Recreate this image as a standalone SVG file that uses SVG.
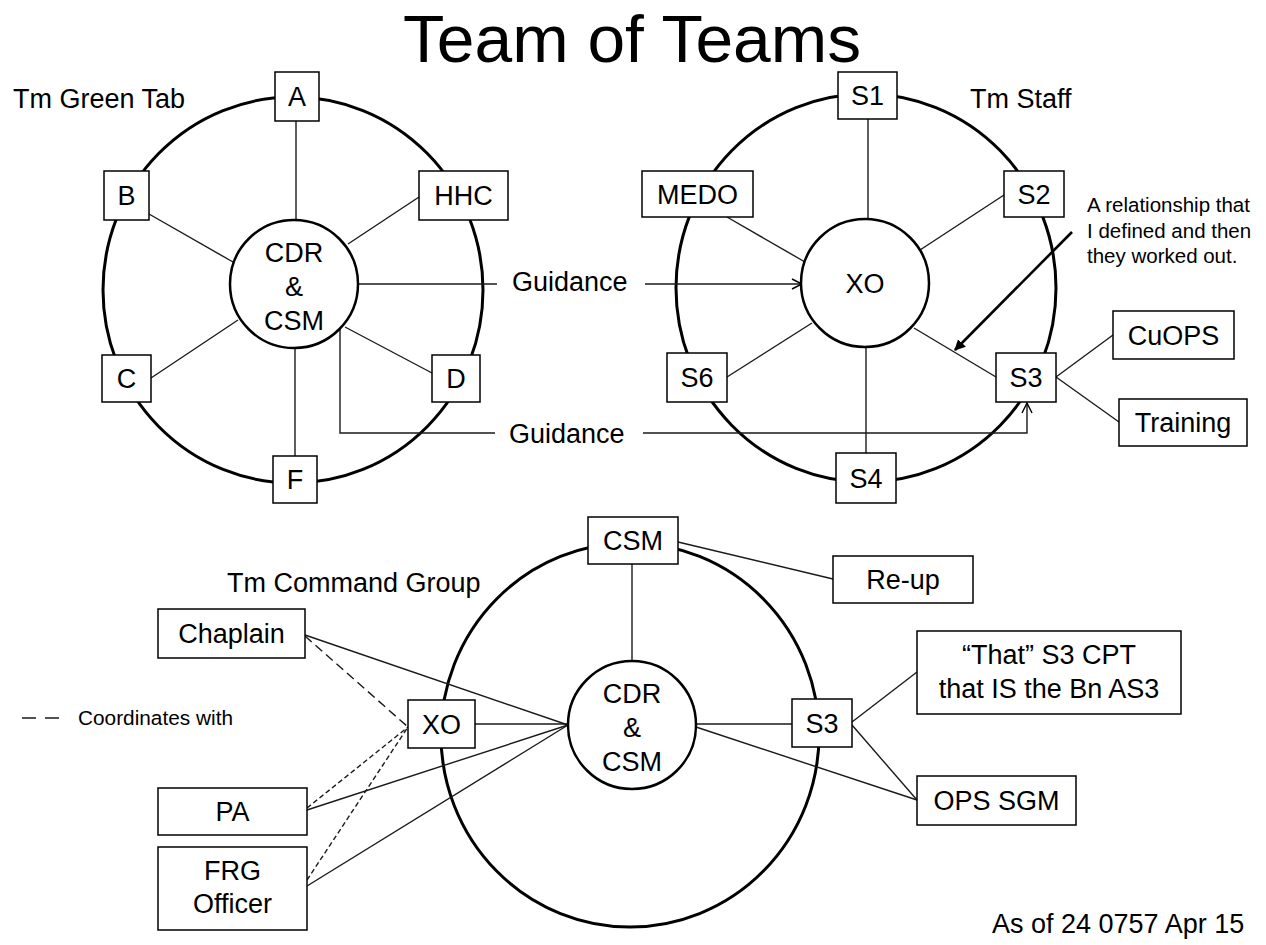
<svg xmlns="http://www.w3.org/2000/svg" width="1266" height="945" viewBox="0 0 1266 945">
<style>
text{font-family:"Liberation Sans",Arial,sans-serif;fill:#000}
.lbl{font-size:27px;text-anchor:middle}
.hdr{font-size:27px}
.note{font-size:20.5px}
.ring{fill:none;stroke:#000;stroke-width:3}
.hub{fill:#fff;stroke:#000;stroke-width:2.5}
.box{fill:#fff;stroke:#000;stroke-width:1.5}
.ln{fill:none;stroke:#1a1a1a;stroke-width:1.4}
.dl{stroke-dasharray:9 5}
.ds{stroke-dasharray:5 3}
</style>
<defs>
<marker id="open" viewBox="0 0 12 12" refX="11" refY="6" markerWidth="12" markerHeight="12" markerUnits="userSpaceOnUse" orient="auto">
<path d="M1,1 L11,6 L1,11" fill="none" stroke="#000" stroke-width="1.4"/>
</marker>
<marker id="solid" viewBox="0 0 10 10" refX="9" refY="5" markerWidth="11" markerHeight="11" markerUnits="userSpaceOnUse" orient="auto">
<path d="M0,0 L10,5 L0,10 Z" fill="#000"/>
</marker>
</defs>
<rect width="1266" height="945" fill="#fff"/>
<text x="632" y="62" font-size="66" text-anchor="middle" textLength="458" lengthAdjust="spacingAndGlyphs">Team of Teams</text>

<g id="rings">
<ellipse class="ring" cx="293" cy="290" rx="190" ry="193"/>
<ellipse class="ring" cx="866" cy="288" rx="190" ry="194"/>
<ellipse class="ring" cx="630" cy="735" rx="189" ry="192"/>
</g>

<g id="connectors">
<line class="ln" x1="296" y1="121" x2="296" y2="220"/>
<line class="ln" x1="149" y1="214" x2="233" y2="262"/>
<line class="ln" x1="419" y1="197" x2="348" y2="244"/>
<line class="ln" x1="151" y1="378" x2="238" y2="320"/>
<line class="ln" x1="345" y1="327" x2="432" y2="373"/>
<line class="ln" x1="295" y1="348" x2="295" y2="456"/>
<line class="ln" x1="358" y1="284" x2="497" y2="284"/>
<line class="ln" x1="645" y1="284" x2="802" y2="284" marker-end="url(#open)"/>
<polyline class="ln" points="340,329 340,433 495,433"/>
<polyline class="ln" points="643,433 1027,433 1027,403" marker-end="url(#open)"/>
<line class="ln" x1="868" y1="119" x2="868" y2="220"/>
<line class="ln" x1="727" y1="217" x2="805" y2="262"/>
<line class="ln" x1="1004" y1="195" x2="920" y2="250"/>
<line class="ln" x1="727" y1="377" x2="812" y2="323"/>
<line class="ln" x1="996" y1="377" x2="914" y2="328"/>
<line class="ln" x1="866" y1="347" x2="866" y2="453"/>
<line class="ln" x1="1056" y1="377" x2="1113" y2="335"/>
<line class="ln" x1="1056" y1="377" x2="1119" y2="422"/>
<line class="ln" x1="632" y1="564" x2="632" y2="661"/>
<line class="ln" x1="678" y1="542" x2="833" y2="579"/>
<line class="ln" x1="475" y1="724" x2="568" y2="724"/>
<line class="ln" x1="696" y1="724" x2="792" y2="724"/>
<line class="ln" x1="305" y1="635" x2="568" y2="725"/>
<line class="ln" x1="307" y1="810" x2="568" y2="725"/>
<line class="ln" x1="307" y1="886" x2="568" y2="725"/>
<line class="ln" x1="852" y1="722" x2="917" y2="672"/>
<line class="ln" x1="852" y1="725" x2="917" y2="800"/>
<line class="ln" x1="696" y1="727" x2="917" y2="800"/>
<line class="ln dl" x1="305" y1="636" x2="408" y2="727"/>
<line class="ln ds" x1="307" y1="808" x2="408" y2="727"/>
<line class="ln ds" x1="307" y1="880" x2="408" y2="727"/>
<line class="ln" x1="22" y1="718" x2="59" y2="718" stroke-dasharray="14 9"/>
</g>

<g id="labels">
<text class="hdr" x="13" y="108">Tm Green Tab</text>
<text class="hdr" x="970" y="108">Tm Staff</text>
<text class="hdr" x="227" y="592">Tm Command Group</text>
<text class="hdr" x="512" y="291">Guidance</text>
<text class="hdr" x="509" y="443">Guidance</text>
<text class="note" x="78" y="725" textLength="155" lengthAdjust="spacingAndGlyphs">Coordinates with</text>
<text class="hdr" x="992" y="933">As of 24 0757 Apr 15</text>
</g>

<g id="gt-hub"><circle class="hub" cx="294" cy="284" r="64"/>
<text class="lbl" x="294" y="262" font-size="26">CDR</text><text class="lbl" x="294" y="296" font-size="26">&amp;</text><text class="lbl" x="294" y="330" font-size="26">CSM</text></g>
<g id="gt-a"><rect class="box" x="275" y="72" width="44" height="49"/><text class="lbl" x="297" y="106">A</text></g>
<g id="gt-b"><rect class="box" x="104" y="171" width="45" height="49"/><text class="lbl" x="126.5" y="205">B</text></g>
<g id="gt-hhc"><rect class="box" x="419" y="171" width="89" height="49"/><text class="lbl" x="463.5" y="205">HHC</text></g>
<g id="gt-c"><rect class="box" x="102" y="355" width="49" height="47"/><text class="lbl" x="126.5" y="388">C</text></g>
<g id="gt-d"><rect class="box" x="432" y="355" width="48" height="47"/><text class="lbl" x="456" y="388">D</text></g>
<g id="gt-f"><rect class="box" x="273" y="456" width="44" height="47"/><text class="lbl" x="295" y="489">F</text></g>

<g id="st-hub"><circle class="hub" cx="865" cy="283" r="64"/><text class="lbl" x="865" y="293">XO</text></g>
<g id="st-s1"><rect class="box" x="838" y="72" width="59" height="47"/><text class="lbl" x="867.5" y="105">S1</text></g>
<g id="st-medo"><rect class="box" x="642" y="171" width="111" height="46"/><text class="lbl" x="697.5" y="203.5">MEDO</text></g>
<g id="st-s2"><rect class="box" x="1004" y="171" width="60" height="46"/><text class="lbl" x="1034" y="203.5">S2</text></g>
<g id="st-s6"><rect class="box" x="667" y="353" width="60" height="49"/><text class="lbl" x="697" y="387">S6</text></g>
<g id="st-s3"><rect class="box" x="996" y="353" width="60" height="49"/><text class="lbl" x="1026" y="387">S3</text></g>
<g id="st-s4"><rect class="box" x="836" y="453" width="60" height="50"/><text class="lbl" x="866" y="487.5">S4</text></g>
<g id="st-cuops"><rect class="box" x="1113" y="311" width="121" height="48"/><text class="lbl" x="1173.5" y="344.5">CuOPS</text></g>
<g id="st-training"><rect class="box" x="1119" y="399" width="128" height="47"/><text class="lbl" x="1183" y="432">Training</text></g>

<g id="note"><text class="note" x="1087" y="212">A relationship that</text><text class="note" x="1087" y="238">I defined and then</text><text class="note" x="1087" y="263">they worked out.</text>
<line x1="1072" y1="232" x2="955" y2="350" stroke="#000" stroke-width="2.6" marker-end="url(#solid)"/></g>

<g id="cg-hub"><circle class="hub" cx="632" cy="725" r="64"/>
<text class="lbl" x="632" y="703" font-size="26">CDR</text><text class="lbl" x="632" y="737" font-size="26">&amp;</text><text class="lbl" x="632" y="771" font-size="26">CSM</text></g>
<g id="cg-csm"><rect class="box" x="588" y="517" width="90" height="47"/><text class="lbl" x="633" y="550">CSM</text></g>
<g id="cg-xo"><rect class="box" x="408" y="700" width="67" height="48"/><text class="lbl" x="441.5" y="733.5">XO</text></g>
<g id="cg-s3"><rect class="box" x="792" y="699" width="60" height="48"/><text class="lbl" x="822" y="732.5">S3</text></g>
<g id="cg-reup"><rect class="box" x="833" y="556" width="140" height="47"/><text class="lbl" x="903" y="589">Re-up</text></g>
<g id="cg-chaplain"><rect class="box" x="158" y="609" width="147" height="49"/><text class="lbl" x="231.5" y="643">Chaplain</text></g>
<g id="cg-pa"><rect class="box" x="158" y="788" width="149" height="47"/><text class="lbl" x="232.5" y="821">PA</text></g>
<g id="cg-frg"><rect class="box" x="158" y="847" width="149" height="83"/><text class="lbl" x="232.5" y="880">FRG</text><text class="lbl" x="232.5" y="913">Officer</text></g>
<g id="cg-that"><rect class="box" x="917" y="631" width="264" height="83"/><text class="lbl" x="1049" y="664">“That” S3 CPT</text><text class="lbl" x="1049" y="698">that IS the Bn AS3</text></g>
<g id="cg-ops"><rect class="box" x="917" y="776" width="159" height="49"/><text class="lbl" x="996.5" y="810">OPS SGM</text></g>
</svg>
